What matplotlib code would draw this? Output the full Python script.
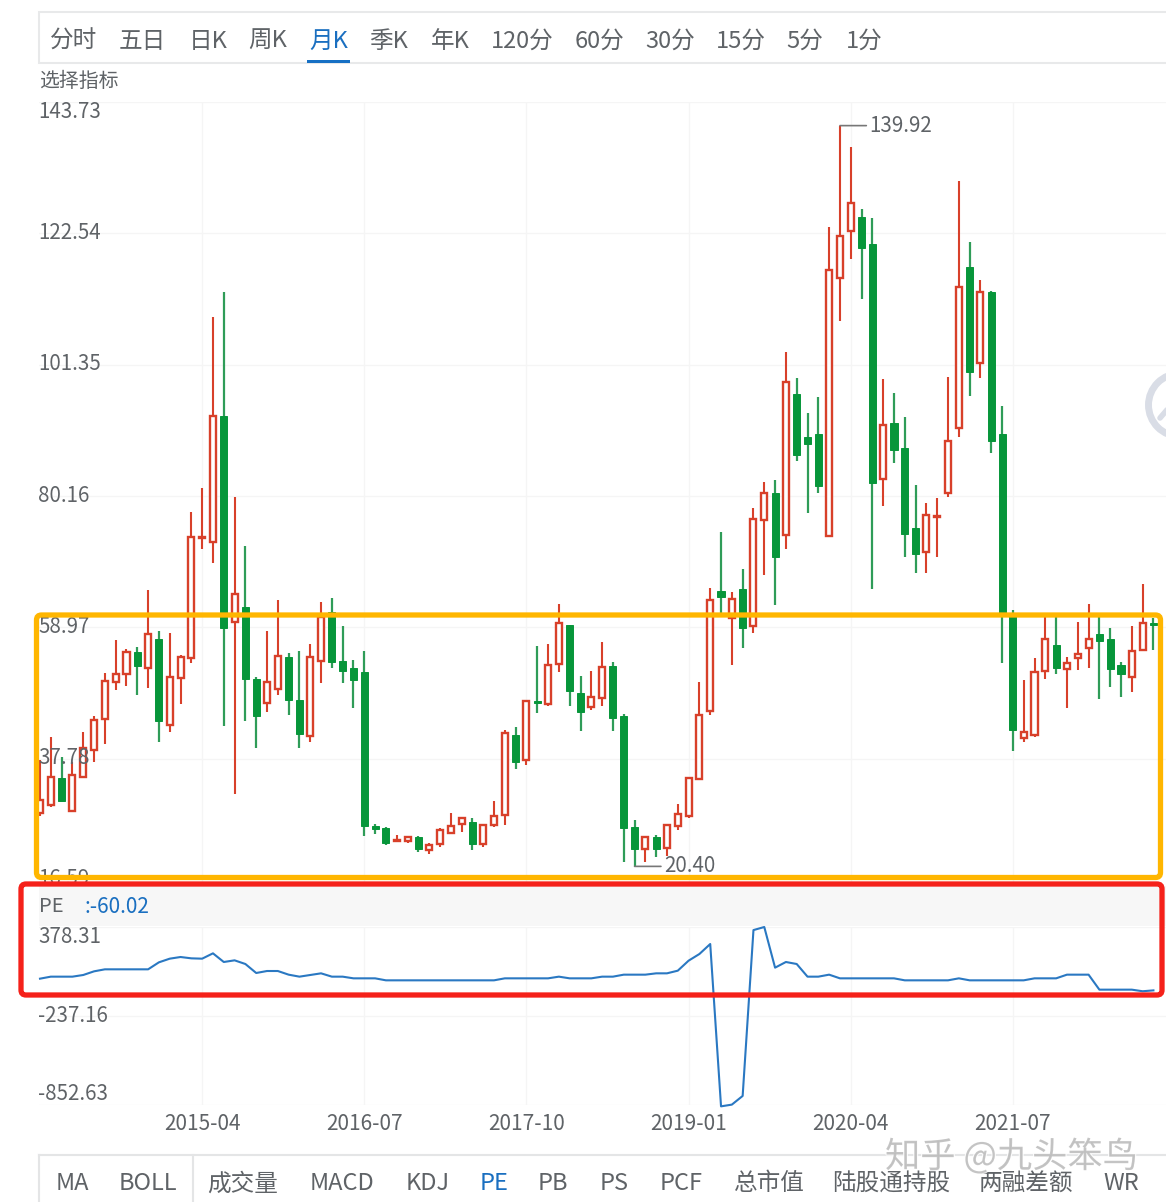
import matplotlib
matplotlib.use("Agg")
import matplotlib.pyplot as plt
import matplotlib.patheffects as pe
from matplotlib.patches import FancyBboxPatch, Rectangle, Circle
from matplotlib.transforms import ScaledTranslation
import numpy as np
import pandas as pd

plt.rcParams['font.family'] = ['Noto Sans CJK SC', 'DejaVu Sans']

months = pd.date_range('2014-01-01', periods=104, freq='MS').strftime('%Y-%m').tolist()

opens = [28.95,30.24,34.60,29.27,34.76,39.12,44.12,50.09,51.38,54.93,52.35,57.03,43.15,50.74,53.97,73.34,72.69,93.03,59.78,62.20,
         50.58,46.70,48.96,54.13,47.19,41.38,53.48,61.39,53.48,52.35,51.71,26.85,26.53,24.52,24.43,25.08,22.98,23.95,25.72,27.17,
         27.50,23.95,27.01,28.62,41.54,37.51,47.03,46.54,53.00,59.29,48.32,46.06,47.51,52.68,44.61,26.69,23.14,25.08,23.30,26.85,
         28.46,34.44,45.41,64.78,60.42,65.10,59.13,76.24,80.60,73.82,96.58,89.64,90.12,73.66,115.30,122.88,125.15,120.79,82.86,91.89,
         87.86,74.95,71.08,76.80,80.60,91.09,117.07,101.58,113.04,90.12,60.75,41.05,41.54,51.87,56.06,52.19,53.97,55.58,57.84,57.03,
         52.84,50.90,55.26,59.62]
closes = [31.05,34.76,30.89,35.08,39.44,43.96,50.25,51.38,54.93,52.68,57.84,43.80,50.90,54.13,73.50,73.50,93.03,58.81,64.30,50.58,
          44.61,50.09,54.29,47.19,41.70,54.13,60.58,53.32,51.87,50.42,26.85,26.37,24.11,24.68,25.08,23.14,23.79,26.21,26.85,28.14,
          23.95,27.01,28.46,41.86,37.18,47.03,46.70,52.84,59.62,48.64,45.25,47.67,52.51,44.28,26.53,23.14,25.08,23.14,27.01,28.79,
          34.60,44.77,63.33,63.81,63.49,58.81,76.40,80.60,70.27,98.51,86.73,88.51,81.73,116.59,122.08,127.41,120.14,82.21,91.57,87.54,
          73.98,70.75,77.05,76.89,88.99,113.85,100.13,113.04,88.99,61.07,42.35,42.02,51.71,57.03,52.35,53.16,54.61,57.03,56.71,52.19,
          51.38,55.10,59.62,59.30]
highs = [37.51,41.22,37.99,37.18,42.02,44.61,51.55,56.87,55.42,55.74,64.94,58.32,58.00,54.45,77.53,81.41,109.01,113.04,79.95,72.04,
         50.90,58.32,63.33,54.77,55.10,56.23,63.00,63.65,59.13,53.64,55.10,27.17,26.69,25.40,25.20,25.24,24.11,26.53,28.95,28.30,
         28.14,27.17,30.89,42.35,42.83,47.20,55.90,56.23,62.68,59.30,51.06,51.87,56.55,53.32,44.93,27.82,25.30,25.40,27.10,30.40,
         34.76,50.09,65.26,74.30,64.62,68.33,78.18,82.37,82.70,103.36,99.16,93.51,96.09,123.53,139.92,136.44,126.44,124.99,98.99,96.74,
         92.86,81.89,78.98,79.79,99.32,130.96,121.11,114.97,113.20,94.64,61.71,50.42,53.97,60.75,60.75,54.13,59.78,62.68,60.75,58.81,
         53.32,59.13,65.91,60.42]
lows = [28.60,29.92,30.89,29.11,34.60,37.18,40.09,48.80,49.45,48.00,49.13,40.41,42.02,46.54,53.16,71.56,69.30,42.99,32.02,43.80,
        39.44,45.25,48.00,44.77,39.44,40.41,49.93,52.35,49.93,45.90,25.24,25.56,23.79,24.27,24.11,22.66,22.33,23.46,25.56,25.88,
        22.98,23.46,26.69,27.01,36.05,36.70,45.09,46.22,51.71,46.22,42.18,45.57,46.22,42.18,21.04,20.40,21.04,21.85,22.01,26.21,
        28.14,34.28,44.77,61.23,52.84,55.58,58.00,67.36,62.52,71.56,85.76,77.37,80.60,73.66,108.36,118.37,111.91,65.10,78.50,85.44,
        70.27,67.68,67.68,70.27,79.95,89.64,96.25,99.16,87.05,53.16,38.96,40.41,41.22,50.58,51.38,45.90,52.03,52.35,47.35,49.29,
        47.67,48.48,55.26,55.26]

pe_values = [21,34.9,34.9,34.9,46.4,71.7,85.6,85.6,85.6,85.6,85.6,134,159.3,170.8,161.6,159.3,196.2,136.3,147.8,122.4,
             60.2,74,74,48.7,34.9,46.4,57.9,34.9,34.9,23.3,23.3,23.3,9.5,9.5,9.5,9.5,9.5,9.5,9.5,9.5,
             9.5,9.5,9.5,23.3,23.3,23.3,23.3,23.3,34.9,23.3,23.3,23.3,34.9,34.9,48.7,48.7,48.7,57.9,57.9,76.3,
             145.5,191.6,260.7,-862,-850,-790,357,378.31,97.1,136.3,122.4,34.9,34.9,48.7,23.3,23.3,23.3,23.3,23.3,23.3,
             9.5,9.5,9.5,9.5,9.5,23.3,9.5,9.5,9.5,9.5,9.5,9.5,23.3,23.3,23.3,48.7,48.7,48.7,-55,-55,
             -55,-55,-66,-60.02]

price_ticks = [143.73, 122.54, 101.35, 80.16, 58.97, 37.78, 16.59]
pe_ticks = [378.31, -237.16, -852.63]
date_ticks = ['2015-04', '2016-07', '2017-10', '2019-01', '2020-04', '2021-07']

top_tabs = ['分时','五日','日K','周K','月K','季K','年K','120分','60分','30分','15分','5分','1分']
bottom_tabs = ['MA','BOLL','成交量','MACD','KDJ','PE','PB','PS','PCF','总市值','陆股通持股','两融差额','WR']

W, H = 1166, 1202
C_RED, C_GREEN, C_WICK_G = '#d8402a', '#07963a', '#2f9c58'
C_TXT, C_BLUE, C_GRID = '#5f6367', '#1a6fc0', '#f5f5f5'

fig = plt.figure(figsize=(W/100, H/100), dpi=100, facecolor='white')

def px_axes(x0, y0, x1, y1):
    return fig.add_axes([x0/W, 1-y1/H, (x1-x0)/W, (y1-y0)/H])

def nudge(dx_px, dy_px):
    return ScaledTranslation(dx_px/100, dy_px/100, fig.dpi_scale_trans)

ax = px_axes(39, 102, W, 890)
ax2 = px_axes(39, 927, W, 1105)
x = np.arange(len(months))
xlim = ((39-40)/10.81, (W-40)/10.81)
tick_idx = [months.index(d) for d in date_ticks]

for a, ticks in ((ax, price_ticks), (ax2, pe_ticks)):
    a.set_xlim(*xlim)
    a.set_ylim(min(ticks), max(ticks))
    a.set_yticks(ticks)
    a.set_yticklabels([f'{t:.2f}' for t in ticks])
    a.tick_params(axis='y', length=0, pad=0, labelsize=14.8, labelcolor=C_TXT)
    labs = a.get_yticklabels()
    for k, lab in enumerate(labs):
        lab.set_ha('left')
        up = 1 if k == 0 else (0 if k == len(labs)-1 else 3)
        lab.set_transform(lab.get_transform() + nudge(-1, up))
    labs[0].set_va('top')
    labs[-1].set_va('bottom')
    a.set_axisbelow(False)
    for s in a.spines.values():
        s.set_visible(False)
    for t in ticks:
        a.axhline(t, color=C_GRID, lw=1, zorder=0.5)
    for i in tick_idx:
        a.axvline(i, color=C_GRID, lw=1, zorder=0.5)
    a.patch.set_alpha(0)

ax.set_xticks([])
ax2.set_xticks(tick_idx)
ax2.set_xticklabels(date_ticks)
ax2.tick_params(axis='x', length=0, pad=5.5, labelsize=15, labelcolor=C_TXT)

# candlesticks
for i in x:
    o, c, h, l = opens[i], closes[i], highs[i], lows[i]
    up = c >= o
    ax.vlines(i, l, h, color=C_RED if up else C_WICK_G, lw=1.5 if up else 1.6, zorder=1.8)
    lo, hi = min(o, c), max(o, c)
    if up:
        ax.bar(i, hi-lo, 0.56, lo, facecolor='white', edgecolor=C_RED, lw=1.7, zorder=1.9)
    else:
        ax.bar(i, hi-lo, 0.66, lo, facecolor=C_GREEN, edgecolor=C_GREEN, lw=0.7, zorder=1.9)

imax = highs.index(max(highs))
imin = lows.index(min(lows))
for idx, v, off in ((imax, highs[imax], 21), (imin, lows[imin], 21)):
    ax.annotate(f'{v:.2f}', xy=(idx, v), xytext=(off, 0), textcoords='offset points',
                fontsize=14.8, color=C_TXT, va='center', ha='left',
                arrowprops=dict(arrowstyle='-', color='#777777', lw=1.2, shrinkA=0, shrinkB=0))

ax2.plot(x, pe_values, color='#2a78c2', lw=1.5, clip_on=False, zorder=2)

# page furniture, drawn in pixel coordinates on a transparent overlay
ov = fig.add_axes([0, 0, 1, 1], zorder=5)
ov.set_xlim(0, W); ov.set_ylim(H, 0); ov.axis('off'); ov.patch.set_alpha(0)

ov.add_patch(Rectangle((39, 12), W, 51, fc='white', ec='#e8e9ea', lw=1.5))
top_x = [74, 142, 208, 268, 329, 389, 450, 522, 599, 670, 741, 805, 864]
for t, px in zip(top_tabs, top_x):
    ov.text(px, 41.5, t, ha='center', va='center', fontsize=17,
            color=C_BLUE if t == '月K' else C_TXT)
ov.add_patch(Rectangle((307, 59.5), 43, 3.5, fc='#1670c4', ec='none'))
ov.text(39, 81, '选择指标', ha='left', va='center', fontsize=14.3, color=C_TXT)

# grey logo ring at the right edge
ov.add_patch(Circle((1180, 405), 31.5, fc='none', ec='#d9dde6', lw=5))
ov.plot([1160, 1172], [418, 404], color='#d9dde6', lw=4, solid_capstyle='round')

# PE header strip
ov.add_patch(Rectangle((39, 886), W, 40, fc='#f7f7f7', ec='none'))
ov.text(39, 907, 'PE', ha='left', va='center', fontsize=14.6, color=C_TXT)
ov.text(85, 907, f':{pe_values[-1]:.2f}', ha='left', va='center', fontsize=15, color=C_BLUE)

# highlight boxes
ov.add_patch(FancyBboxPatch((36.5, 615), 1124, 262.5, boxstyle='round,pad=0,rounding_size=5',
                            fc='none', ec='#ffb600', lw=3.8))
ov.add_patch(FancyBboxPatch((21, 884), 1141, 111, boxstyle='round,pad=0,rounding_size=5',
                            fc='none', ec='#f5211a', lw=3.8))

# bottom tab strip
ov.plot([39, W], [1155, 1155], color='#e4e5e6', lw=1.5)
ov.plot([39, 39], [1155, H], color='#e4e5e6', lw=1.5)
ov.plot([193, 193], [1155, H], color='#e4e5e6', lw=1.5)
bottom_x = [72, 148, 243, 342, 428, 494, 553, 614, 681, 769, 891, 1026, 1121]
for t, px in zip(bottom_tabs, bottom_x):
    ov.text(px, 1184, t, ha='center', va='center', fontsize=17,
            color=C_BLUE if t == 'PE' else C_TXT)

ov.text(885, 1157, '知乎 @九头笨鸟', ha='left', va='center', fontsize=25.4, color='#bcbcbc',
        alpha=0.85, path_effects=[pe.withStroke(linewidth=1.6, foreground='white')])

fig.savefig('out.png', dpi=100, facecolor='white')
